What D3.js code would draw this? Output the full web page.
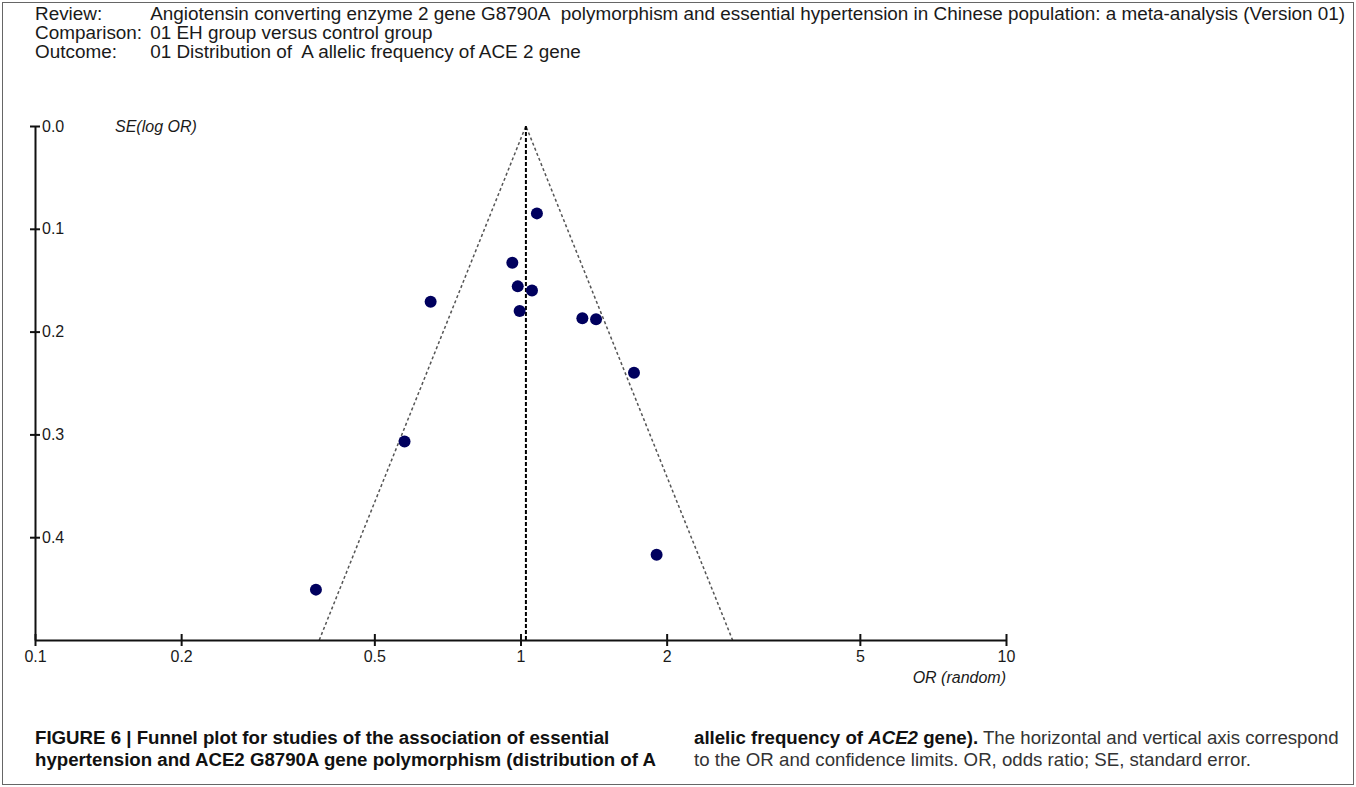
<!DOCTYPE html>
<html>
<head>
<meta charset="utf-8">
<script src="https://cdn.jsdelivr.net/npm/d3@7"></script>
<style>
  body { margin: 0; background: #fff; }
  svg { display: block; }
</style>
</head>
<body>
<div id="chart"></div>
<script>
// Header rows (label, text)
const headerLabels = ["Review:", "Comparison:", "Outcome:"];
const headerTexts = [
    "Angiotensin converting enzyme 2 gene G8790A\u00a0 polymorphism and essential hypertension in Chinese population: a meta-analysis (Version 01)",
    "01 EH group versus control group",
    "01 Distribution of\u00a0 A allelic frequency of ACE 2 gene"
];

// Study estimates
const studyOR = [1.081, 0.962, 0.987, 1.056, 0.996, 0.653, 1.341, 1.431, 1.713, 0.577, 0.379, 1.907];
const studySE = [0.085, 0.133, 0.156, 0.160, 0.180, 0.171, 0.187, 0.188, 0.240, 0.307, 0.451, 0.417];
const pooledOR = 1.026;

const xTickValues = [0.1, 0.2, 0.5, 1, 2, 5, 10];
const yTickValues = [0, 0.1, 0.2, 0.3, 0.4];

const W = 1356, H = 787;
const margin = { top: 126, left: 35, right: 350, bottom: 147 };
const plotW = W - margin.left - margin.right;   // 971
const plotH = H - margin.top - margin.bottom;   // 514

const svg = d3.select("#chart").append("svg")
    .attr("width", W)
    .attr("height", H)
    .style("font-family", "'Liberation Sans', Arial, sans-serif");

// outer frame
svg.append("rect")
    .attr("x", 2.5).attr("y", 2.5)
    .attr("width", W - 5).attr("height", H - 5)
    .attr("fill", "none")
    .attr("stroke", "#666")
    .attr("stroke-width", 1);

// fit a text element to a target width by changing font size
function fitWidth(sel, target, size) {
    sel.style("font-size", size + "px");
    const w = sel.node().getComputedTextLength();
    const s = size * target / w;
    sel.style("font-size", s + "px");
    return s;
}

// header: labels column, then texts column, first text reaching the right edge
const header = svg.append("g").attr("fill", "#1a1a1a");
const labs = headerLabels.map((lab, i) => header.append("text")
    .attr("x", 35).attr("y", 20 + i * 19)
    .style("font-size", "16px")
    .text(lab));
const txts = headerTexts.map((t, i) => header.append("text")
    .attr("y", 20 + i * 19)
    .style("font-size", "16px")
    .text(t));
const labW = d3.max(labs, l => l.node().getComputedTextLength());
const txtW = txts[0].node().getComputedTextLength();
const hSize = 16 * (1346 - 35 - 8) / (labW + txtW);
const colX = 35 + labW * hSize / 16 + 8;
header.selectAll("text").style("font-size", hSize + "px");
txts.forEach(t => t.attr("x", colX));

const g = svg.append("g").attr("transform", `translate(${margin.left},${margin.top})`);

const x = d3.scaleLog().domain([0.1, 10]).range([0, plotW]);
const y = d3.scaleLinear().domain([0, 0.5]).range([0, plotH]);

// funnel (95% pseudo-confidence limits)
const lp = Math.log(pooledOR);
const seMax = y.domain()[1];
const funnel = [
    [Math.exp(lp - 1.96 * seMax), seMax],
    [pooledOR, 0],
    [Math.exp(lp + 1.96 * seMax), seMax]
];
g.append("path")
    .attr("d", d3.line().x(d => x(d[0])).y(d => y(d[1]))(funnel))
    .attr("fill", "none")
    .attr("stroke", "#555")
    .attr("stroke-width", 1.5)
    .attr("stroke-dasharray", "3,2.5");

// pooled estimate line
g.append("line")
    .attr("x1", x(pooledOR)).attr("x2", x(pooledOR))
    .attr("y1", y(0)).attr("y2", y(seMax))
    .attr("stroke", "#000")
    .attr("stroke-width", 2)
    .attr("stroke-dasharray", "4,2");

// axes
const xAxis = g.append("g")
    .attr("transform", `translate(0,${plotH})`)
    .call(d3.axisBottom(x).tickValues(xTickValues).tickFormat(d3.format("~g")).tickSize(6).tickSizeOuter(0));
xAxis.select(".domain").attr("stroke", "#111").attr("stroke-width", 2);
xAxis.selectAll(".tick line").attr("y1", -6).attr("stroke", "#111").attr("stroke-width", 2);
xAxis.selectAll(".tick text")
    .attr("y", 11).attr("dy", "0.71em")
    .style("font-size", "16px").attr("fill", "#1a1a1a");

const yAxis = g.append("g")
    .call(d3.axisRight(y).tickValues(yTickValues).tickFormat(d3.format(".1f")).tickSize(5).tickSizeOuter(0));
yAxis.select(".domain").attr("stroke", "#111").attr("stroke-width", 2);
yAxis.selectAll(".tick line").attr("x1", -5).attr("stroke", "#111").attr("stroke-width", 2);
yAxis.selectAll(".tick text")
    .attr("x", 7)
    .style("font-size", "16px").attr("fill", "#1a1a1a");

// axis titles
g.append("text")
    .attr("x", 80).attr("y", 6)
    .style("font-size", "16px").style("font-style", "italic")
    .attr("fill", "#1a1a1a")
    .text("SE(log OR)");
g.append("text")
    .attr("x", plotW).attr("y", plotH + 43)
    .attr("text-anchor", "end")
    .style("font-size", "16px").style("font-style", "italic")
    .attr("fill", "#1a1a1a")
    .text("OR (random)");

// study points
g.selectAll("circle.study")
    .data(studyOR.map((d, i) => ({ or: d, se: studySE[i] })))
    .enter().append("circle")
    .attr("class", "study")
    .attr("cx", d => x(d.or))
    .attr("cy", d => y(d.se))
    .attr("r", 6)
    .attr("fill", "#00005e");

// caption
const cap = svg.append("g")
    .style("font-family", "'Liberation Sans Narrow', 'Liberation Sans', Arial, sans-serif")
    .attr("fill", "#111");

const c1 = cap.append("text").attr("x", 35).attr("y", 744)
    .style("font-weight", "bold")
    .text("FIGURE 6 | Funnel plot for studies of the association of essential");
const c2 = cap.append("text").attr("x", 35).attr("y", 766)
    .style("font-weight", "bold")
    .text("hypertension and ACE2 G8790A gene polymorphism (distribution of A");

const c3 = cap.append("text").attr("x", 694).attr("y", 744);
c3.append("tspan").style("font-weight", "bold").text("allelic frequency of ");
c3.append("tspan").style("font-weight", "bold").style("font-style", "italic").text("ACE2");
c3.append("tspan").style("font-weight", "bold").text(" gene).");
c3.append("tspan").attr("fill", "#333").text(" The horizontal and vertical axis correspond");
const c4 = cap.append("text").attr("x", 694).attr("y", 766)
    .attr("fill", "#333")
    .text("to the OR and confidence limits. OR, odds ratio; SE, standard error.");

const cSize = fitWidth(c1, 575, 14);
c2.style("font-size", cSize + "px");
c3.style("font-size", cSize + "px");
c4.style("font-size", cSize + "px");
</script>
</body>
</html>
